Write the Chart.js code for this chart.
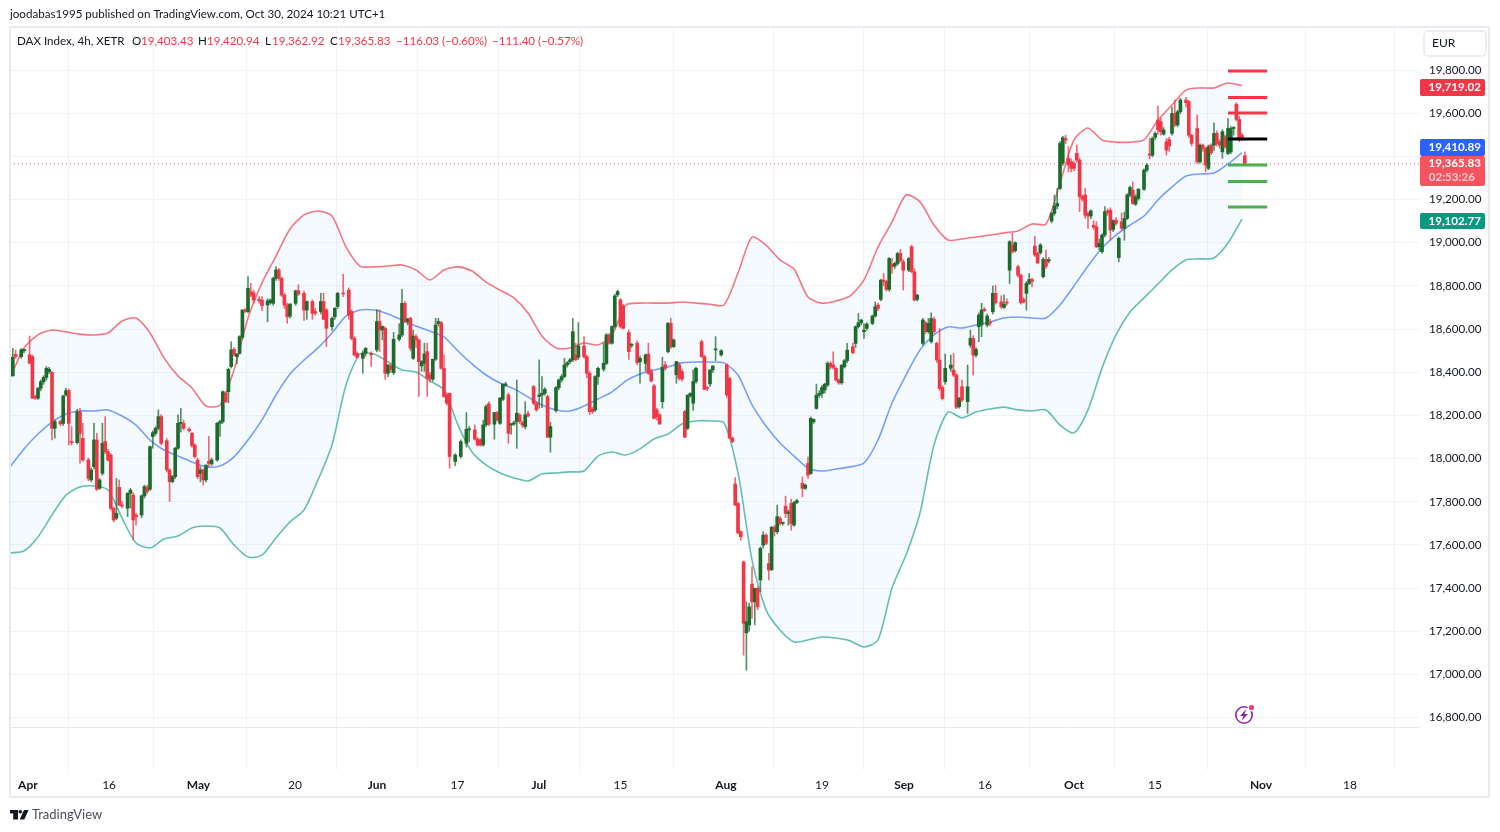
<!DOCTYPE html>
<html>
<head>
<meta charset="utf-8">
<style>html,body{margin:0;padding:0;background:#fff}canvas{display:block}</style>
<script src="https://cdn.jsdelivr.net/npm/chart.js@4"></script>
</head>
<body>
<canvas id="c" width="1500" height="832"></canvas>
<script>
const tickBars=[6.4,35.4,67.3,101.8,131.1,159.8,188.9,218,255.7,290,319.3,348.2,380,408.9,446.8,478.6];
const tickLabels=['Apr','16','May','20','Jun','17','Jul','15','Aug','19','Sep','16','Oct','15','Nov','18'];
const priceTicks=[16800,17000,17200,17400,17600,17800,18000,18200,18400,18600,18800,19000,19200,19400,19600,19800];

const candleBars=[
1,2,4,5,7,8,9,10,11,12,13,14,15,16,18,19,20,21,22,24,25,26,28,29,30,31,32,33,34,35,
36,37,38,39,40,42,43,44,45,47,48,49,50,51,52,53,54,56,57,58,59,60,61,62,64,65,66,67,68,69,
70,71,72,74,75,76,77,78,79,80,81,82,83,84,85,86,87,89,90,92,93,94,95,96,97,98,99,100,102,103,
105,106,108,109,111,112,113,115,116,117,119,121,122,123,124,126,127,129,131,
132,133,134,135,136,137,139,140,141,142,143,144,145,146,147,148,149,150,151,152,
153,154,155,156,157,159,161,163,164,166,167,168,169,170,171,173,174,175,176,177,
178,179,180,181,182,183,184,185,187,188,189,190,191,192,193,195,196,197,198,199,
200,201,202,203,205,206,207,208,209,210,212,213,214,215,216,217,218,219,221,222,
224,225,227,228,229,230,231,232,233,234,235,236,237,238,239,240,241,242,243,244,
245,247,248,249,250,251,252,254,256,257,258,
259,260,261,262,263,264,265,266,267,268,269,270,271,272,273,274,275,276,277,278,279,280,281,
283,284,285,286,287,288,289,290,291,292,293,294,295,296,297,298,299,
301,302,303,304,305,306,308,309,310,311,312,313,314,315,316,317,318,319,321,322,323,324,
326,327,328,329,330,331,332,333,334,336,337,338,339,340,342,343,344,345,346,347,348,349,350,351,352,
354,355,356,357,358,359,360,361,362,363,364,365,366,367,368,369,370,371,
372,373,374,375,376,377,378,379,380,381,382,383,384,385,386,387,388,389,390,391,392,393,394,395,396,397,398,399,400,401,402,403,
405,406,407,408,409,410,411,412,413,414,415,416,417,418,420,421,422,
424,425,426,427,428,429,430,431,432,433,434,435,436,437,438,439,440,441];

const candleOpen=[
18379,18479,18468,18495,18476,18468,18283,18276,18322,18352,
18372,18399,18395,18137,18168,18160,18291,18311,18076,18071,
18214,18091,17991,17899,17960,18083,17860,17929,18076,18029,
18014,17768,17722,17865,17783,17768,17837,17829,17737,17737,
17825,17863,17856,18099,18114,18137,18191,18080,17945,17891,
17914,18045,18160,18160,18133,18114,18060,17991,17929,17945,
17899,17985,17973,17991,18160,18168,18299,18306,18422,18502,
18468,18483,18557,18683,18676,18768,18763,18732,18729,18706,
18717,18714,18829,18868,18829,18752,18706,18655,18714,18772,
18760,18683,18722,18676,18676,18722,18683,18606,18652,18699,
18760,18775,18676,18552,18483,18460,18483,18483,18499,
18630,18591,18599,18391,18425,18394,18548,18568,18714,18630,
18645,18460,18560,18545,18425,18437,18491,18384,18364,18456,
18620,18625,18414,18291,18299,17984,18007,18068,18130,18130,
18087,18084,18060,18153,18250,18156,18210,18160,18271,18337,
18291,18153,18157,18168,18199,18163,18145,18204,18330,18253,
18284,18291,18299,18284,18096,18219,18325,18360,18376,18430,
18445,18453,18476,18465,18517,18468,18391,18225,18222,18376,
18410,18437,18568,18530,18607,18753,18730,18702,18579,18520,
18530,18445,18437,18480,18399,18333,18222,18199,18260,18430,
18491,18622,18514,18384,18430,18399,18214,18137,18287,18253,
18353,18537,18468,18322,18342,18407,18499,18476,18430,18368,18092,
17880,17790,17660,17521,17193,17229,17418,17336,17398,17437,17598,17644,17513,17485,17680,17660,17721,17698,17778,17744,17790,17690,17794,
17883,17860,17975,17929,18167,18229,18290,18298,18314,18337,18437,18429,18414,18360,18347,18421,18449,
18514,18529,18606,18624,18583,18598,18621,18655,18706,18732,18821,18814,18778,18894,18886,18898,18944,18906,18867,18975,18860,18732,
18529,18624,18583,18537,18640,18529,18452,18326,18352,18414,18406,18383,18237,18329,18260,18521,18552,18475,18606,18614,18686,18614,18628,18675,18760,
18721,18695,18719,18867,18983,18957,18883,18844,18732,18760,18806,18824,18978,18944,18947,18837,18917,18910,
19094,19129,19163,19244,19360,19475,19383,19367,19360,19406,19375,19206,19214,19129,19117,19075,19067,18975,18952,19029,19141,19144,19055,19098,18925,19090,19060,19106,19214,19237,19172,19198,
19240,19329,19403,19398,19480,19560,19552,19495,19460,19470,19498,19590,19537,19598,19652,19644,19490,
19521,19367,19444,19429,19337,19444,19444,19498,19460,19413,19483,19406,19413,19521,19633,19563,19490,19403.43];

const candleHigh=[
18506,18499,18506,18500,18563,18476,18290,18325,18360,18380,
18422,18419,18400,18175,18175,18290,18322,18318,18145,18225,
18229,18160,18000,17955,18160,18114,17905,18160,18191,18040,
18020,17775,17906,17899,17800,17840,17860,17840,17745,17830,
17875,17875,18055,18125,18145,18222,18200,18090,17950,17920,
18050,18199,18229,18175,18140,18120,18065,18000,17960,17950,
17965,18100,18000,18165,18175,18310,18305,18415,18537,18510,
18482,18565,18685,18690,18837,18806,18775,18745,18745,18735,
18735,18835,18883,18875,18835,18760,18715,18712,18775,18799,
18770,18725,18730,18690,18760,18760,18690,18650,18695,18765,
18848,18785,18685,18560,18490,18495,18510,18490,18685,
18684,18610,18605,18430,18435,18580,18620,18779,18722,18645,
18650,18590,18570,18550,18450,18530,18530,18395,18455,18645,
18645,18630,18476,18300,18299,18020,18084,18210,18145,18153,
18095,18090,18175,18245,18260,18210,18215,18280,18340,18350,
18300,18160,18170,18360,18205,18170,18260,18215,18335,18260,
18453,18376,18325,18290,18165,18330,18365,18385,18460,18445,
18460,18645,18530,18625,18560,18475,18400,18235,18380,18420,
18530,18575,18575,18610,18755,18775,18737,18710,18590,18530,
18540,18470,18480,18530,18410,18340,18230,18205,18465,18445,
18625,18645,18550,18445,18440,18410,18220,18290,18300,18407,
18420,18545,18475,18330,18400,18425,18560,18500,18435,18372,18098,
17910,17795,17665,17525,17336,17330,17498,17400,17405,17590,17660,17650,17560,17685,17690,17783,17730,17705,17824,17760,17810,17800,17810,
17913,17880,18006,18190,18180,18341,18310,18335,18345,18445,18445,18490,18420,18365,18430,18455,18529,
18530,18610,18667,18640,18620,18625,18660,18720,18715,18825,18852,18820,18925,18921,18905,18950,18963,18915,18925,18983,18875,18755,
18644,18632,18644,18670,18650,18535,18598,18335,18480,18475,18483,18390,18280,18360,18429,18590,18565,18510,18670,18714,18695,18665,18640,18794,18798,
18749,18752,18735,19003,19037,18998,18890,18850,18740,18815,18852,18830,19024,18950,18990,18925,18960,18925,
19135,19214,19244,19460,19485,19490,19437,19380,19370,19445,19385,19215,19244,19135,19145,19095,19090,19010,19035,19160,19150,19155,19100,19110,19020,19130,19135,19220,19255,19275,19215,19245,
19335,19360,19475,19482,19505,19624,19570,19525,19475,19480,19620,19652,19605,19660,19665,19650,19495,
19583,19450,19450,19435,19445,19450,19547,19510,19470,19515,19490,19567,19530,19530,19640,19578,19500,19420.94];

const candleLow=[
18379,18460,18460,18485,18437,18276,18270,18270,18310,18340,
18360,18390,18083,18091,18150,18150,18285,18060,18060,18065,
17976,17985,17895,17890,17950,17850,17855,17920,18020,17985,
17760,17705,17715,17780,17770,17730,17770,17622,17690,17725,
17815,17835,17850,18045,18105,18130,18060,17935,17800,17885,
17905,18040,18120,18130,18120,18050,18000,17905,17890,17875,
17890,17960,17965,17985,18100,18160,18255,18255,18415,18470,
18435,18480,18550,18670,18670,18745,18715,18715,18680,18629,
18710,18705,18820,18820,18745,18690,18622,18645,18705,18750,
18635,18640,18640,18660,18665,18640,18514,18590,18640,18690,
18745,18640,18545,18470,18460,18391,18470,18422,18490,
18491,18545,18363,18375,18395,18385,18540,18560,18625,18615,
18495,18455,18510,18284,18400,18400,18284,18350,18355,18450,
18610,18410,18280,18245,17953,17965,18000,18050,18075,18082,
18055,18055,18055,18145,18150,18087,18170,18155,18265,18330,
18068,18110,18150,18045,18160,18140,18135,18190,18245,18215,
18230,18232,18290,18095,18027,18212,18315,18350,18370,18420,
18435,18445,18450,18455,18460,18370,18200,18205,18215,18340,
18400,18430,18525,18525,18600,18745,18600,18595,18455,18510,
18430,18345,18400,18385,18350,18180,18175,18155,18230,18405,
18485,18505,18510,18345,18360,18355,18095,18130,18280,18220,
18345,18465,18315,18310,18330,18395,18450,18470,18280,18090,18070,
17780,17650,17620,17090,17021,17200,17260,17230,17300,17383,17585,17600,17437,17480,17640,17650,17690,17690,17725,17690,17667,17685,17790,
17821,17855,17906,17925,18160,18225,18280,18280,18300,18330,18410,18410,18355,18340,18340,18415,18440,
18480,18510,18600,18615,18552,18590,18615,18650,18680,18725,18795,18770,18770,18852,18875,18890,18905,18775,18860,18855,18725,18725,
18520,18575,18575,18530,18575,18440,18310,18268,18340,18400,18375,18228,18230,18260,18206,18510,18383,18465,18537,18560,18675,18605,18610,18665,18710,
18690,18690,18705,18806,18945,18950,18835,18710,18715,18683,18800,18790,18930,18898,18940,18830,18875,18900,
19085,19120,19150,19240,19350,19450,19320,19320,19325,19365,19137,19185,19106,19060,19105,19055,18970,18960,18945,19020,19120,19006,19045,19075,18906,19050,19005,19100,19205,19170,19165,19190,
19235,19320,19380,19390,19470,19495,19490,19490,19398,19415,19490,19530,19530,19590,19620,19480,19440,
19360,19360,19415,19321,19330,19400,19420,19440,19430,19383,19430,19400,19405,19490,19555,19460,19465,19362.92];

const candleClose=[
18465,18468,18499,18502,18437,18276,18276,18322,18352,18372,
18414,18409,18137,18168,18157,18286,18311,18160,18071,18214,
18114,17991,17906,17945,18083,17856,17899,18068,18029,17991,
17768,17714,17745,17783,17778,17837,17852,17714,17729,17825,
17868,17845,18052,18117,18137,18191,18068,17945,17891,17914,
18045,18160,18163,18137,18126,18056,18006,17914,17945,17899,
17968,17975,17991,18160,18168,18306,18260,18409,18499,18476,
18480,18560,18683,18676,18783,18752,18729,18725,18703,18726,
18729,18829,18868,18829,18752,18706,18652,18711,18772,18757,
18683,18722,18668,18668,18722,18640,18599,18645,18691,18760,
18757,18660,18552,18476,18465,18483,18506,18476,18630,
18591,18607,18391,18430,18410,18548,18568,18714,18630,18642,
18507,18563,18545,18445,18445,18480,18368,18364,18456,18614,
18630,18414,18284,18253,18007,18014,18076,18133,18133,18087,
18060,18060,18153,18237,18156,18210,18176,18276,18342,18340,
18114,18157,18163,18207,18168,18153,18199,18194,18253,18222,
18291,18299,18317,18096,18145,18325,18360,18376,18430,18440,
18453,18583,18453,18517,18468,18391,18214,18214,18376,18414,
18437,18568,18530,18607,18748,18768,18607,18599,18491,18524,
18440,18460,18476,18391,18356,18183,18191,18157,18419,18414,
18622,18514,18545,18445,18368,18364,18096,18291,18299,18353,
18414,18468,18317,18320,18407,18425,18503,18495,18291,18092,18076,
17783,17655,17637,17237,17244,17313,17336,17398,17313,17583,17644,17606,17483,17680,17660,17729,17698,17700,17744,17752,17698,17794,17803,
17860,17875,17921,18183,18178,18290,18298,18326,18341,18437,18421,18418,18360,18347,18429,18449,18498,
18486,18606,18624,18637,18590,18618,18655,18698,18690,18821,18814,18778,18921,18883,18898,18944,18910,18867,18921,18860,18729,18752,
18637,18583,18621,18644,18583,18452,18321,18275,18414,18429,18383,18234,18275,18267,18329,18552,18475,18501,18660,18683,18680,18655,18622,18760,18717,
18698,18710,18715,18998,18952,18994,18844,18717,18721,18806,18824,18815,18937,18900,18983,18917,18885,18915,
19129,19163,19175,19452,19478,19467,19352,19337,19337,19375,19206,19195,19121,19117,19141,19065,18975,18990,19029,19137,19132,19052,19095,19083,19014,19060,19106,19214,19249,19175,19206,19240,
19329,19352,19398,19475,19498,19514,19506,19514,19421,19440,19590,19537,19598,19652,19640,19490,19452,
19367,19444,19429,19352,19437,19409,19498,19452,19444,19506,19437,19521,19521,19525,19563,19475,19475,19365.83];

// Bollinger bands, read every 5 bars
const bandBars=[0,5,10,15,20,25,30,35,40,45,50,55,60,65,70,75,80,85,90,95,100,105,110,115,120,125,130,135,140,145,150,155,160,165,170,175,180,185,190,195,200,205,210,215,220,225,230,235,240,245,250,255,260,265,270,275,280,285,290,295,300,305,310,315,320,325,330,335,340,345,350,355,360,365,370,375,380,385,390,395,400,405,410,415,420,425,430,435,440];
const upperBand=[
18369,18508,18568,18591,18582,18572,18568,18577,18632,18646,
18577,18462,18379,18323,18240,18245,18406,18646,18808,18932,
19057,19122,19140,19117,18974,18886,18882,18886,18891,18868,
18822,18868,18882,18863,18812,18775,18739,18669,18563,18508,
18508,18531,18522,18568,18706,18715,18715,18715,18720,18715,
18710,18706,18854,19020,18983,18914,18872,18743,18715,18725,
18748,18822,18974,19089,19214,19182,19075,19006,19011,19020,
19029,19039,19048,19080,19080,19269,19468,19523,19468,19458,
19458,19468,19560,19629,19698,19708,19708,19731,19719];
const midBand=[
17959,18042,18111,18166,18203,18217,18217,18222,18194,18152,
18083,18037,18009,17982,17959,17963,18005,18083,18176,18291,
18388,18452,18508,18577,18655,18683,18683,18665,18637,18609,
18586,18559,18494,18434,18383,18346,18319,18282,18245,18222,
18217,18240,18272,18305,18356,18388,18406,18420,18439,18443,
18443,18439,18383,18245,18148,18069,18009,17954,17940,17949,
17959,17977,18083,18254,18383,18499,18568,18605,18600,18614,
18628,18646,18651,18646,18646,18706,18794,18886,18969,19029,
19075,19117,19191,19251,19302,19311,19315,19357,19410];
const lowerBand=[
17562,17571,17636,17737,17829,17866,17871,17852,17723,17608,
17585,17626,17640,17677,17686,17677,17599,17543,17552,17631,
17705,17760,17899,18060,18337,18480,18480,18443,18406,18397,
18356,18314,18152,18028,17968,17931,17908,17894,17926,17931,
17936,17940,18009,18028,18014,18042,18088,18111,18157,18171,
18171,18162,17931,17529,17299,17206,17151,17160,17174,17169,
17156,17128,17160,17400,17552,17746,18060,18212,18185,18212,
18226,18235,18222,18217,18222,18152,18116,18222,18415,18568,
18674,18739,18803,18868,18914,18919,18923,18992,19103];

const lastPrice=19365.83;
const chartEndBar=503.57;
const levelStartBar=435;
const levelEndBar=449;
const levelPrices=[19786,19664,19592,19472,19352,19276,19158];
const levelColors=['#f23645','#f23645','#f23645','#000000','#4caf50','#4caf50','#4caf50'];

const headerText='joodabas1995 published on TradingView.com, Oct 30, 2024 10:21 UTC+1';
const FONT='Lato, "Noto Sans", sans-serif';
const UP='#1d6b2b', DOWN='#f23645';
const fmt=v=>v.toLocaleString('en-US',{minimumFractionDigits:2,maximumFractionDigits:2});

// first readings were taken against a slightly offset grid; this corrects them
const calibrate=p=>19800-((19800-p)*1.00357-9.26);

const n=candleBars.length;
const idx=[...Array(n).keys()];
const isUp=i=>candleClose[i]>=candleOpen[i];
const cv=(arr,i)=>i===n-1?arr[i]:calibrate(arr[i]);
const line=(label,ys,color)=>({type:'line',label,order:5,data:bandBars.map((b,i)=>({x:b,y:calibrate(ys[i])})),
  borderColor:color,borderWidth:1.6,pointRadius:0,tension:0.25,fill:false});

const datasets=[
  {...line('Upper',upperBand,'rgba(242,54,69,0.68)'),fill:{target:2,above:'rgba(33,150,243,0.05)',below:'rgba(33,150,243,0.05)'}},
  line('Basis',midBand,'rgba(41,98,255,0.62)'),
  line('Lower',lowerBand,'rgba(8,153,129,0.62)'),
  {type:'bar',label:'Wick',order:4,grouped:false,barThickness:1,data:idx.map(i=>({x:candleBars[i],y:[cv(candleLow,i),cv(candleHigh,i)]})),
   backgroundColor:idx.map(i=>isUp(i)?'rgba(29,107,43,0.75)':'rgba(242,54,69,0.75)'),borderWidth:0},
  {type:'bar',label:'Body',order:3,grouped:false,barThickness:3,minBarLength:1,data:idx.map(i=>({x:candleBars[i],y:[cv(candleOpen,i),cv(candleClose,i)]})),
   backgroundColor:idx.map(i=>isUp(i)?UP:DOWN),borderWidth:0},
  {type:'line',label:'Last',order:2,data:[{x:0,y:lastPrice},{x:chartEndBar,y:lastPrice}],borderColor:'rgba(242,54,69,0.8)',borderWidth:1,borderDash:[1,3],pointRadius:0},
  ...levelPrices.map((p,i)=>({type:'line',label:'Level '+(i+1),order:1,data:[{x:levelStartBar,y:calibrate(p)},{x:levelEndBar,y:calibrate(p)}],borderColor:levelColors[i],borderWidth:3,pointRadius:0}))
];

function txt(ctx,s,x,y,color,font,align){
  ctx.fillStyle=color;ctx.font=font;ctx.textAlign=align||'left';ctx.textBaseline='middle';ctx.fillText(s,x,y);
}
const decor={
  id:'decor',
  afterDraw(chart){
    const c=chart.ctx;c.save();
    c.strokeStyle='#e9ebf1';c.lineWidth=2;c.strokeRect(10,27,1479,770);
    c.strokeStyle='#e6e8ef';c.lineWidth=1;c.beginPath();c.moveTo(10,727.5);c.lineTo(1420,727.5);c.stroke();
    const f='11.6px '+FONT;
    txt(c,headerText,10,14,'#131722',f);
    txt(c,'DAX Index, 4h, XETR',17,41,'#131722',f);
    const parts=[['O',132,'#131722'],['19,403.43',141,DOWN],['H',198,'#131722'],['19,420.94',207,DOWN],['L',265,'#131722'],['19,362.92',272,DOWN],['C',330,'#131722'],['19,365.83',338,DOWN],['\u2212116.03 (\u22120.60%)',396,DOWN],['\u2212111.40 (\u22120.57%)',492,DOWN]];
    parts.forEach(p=>txt(c,p[0],p[1],41,p[2],f));
    c.strokeStyle='#e6e8ef';c.lineWidth=1.5;c.beginPath();c.roundRect(1424,31,62,25,4);c.stroke();
    txt(c,'EUR',1432,43.5,'#131722','12px '+FONT);
    const tag=(t,v,col,y0,y1)=>{c.fillStyle=col;c.beginPath();c.roundRect(1420,y0,65,y1-y0,2);c.fill();
      txt(c,fmt(v),1481,t,'#ffffff','bold 11.6px '+FONT,'right');};
    tag(87.5,19719.02,'#f23645',79,96);
    tag(147,19410.89,'#2962ff',139,156);
    tag(163.5,lastPrice,'#f7525f',156,186);
    txt(c,'02:53:26',1475,177,'rgba(255,255,255,0.72)','bold 11.6px '+FONT,'right');
    tag(221,19102.77,'#089981',213,229);
    const g=c.createLinearGradient(1235,723,1253,705);g.addColorStop(0,'#9c27b0');g.addColorStop(1,'#7b1fa2');
    c.strokeStyle=g;c.lineWidth=1.6;c.beginPath();c.arc(1244,715,8.2,0,Math.PI*2);c.stroke();
    c.fillStyle='#8e24aa';c.beginPath();c.moveTo(1246.5,709);c.lineTo(1240,716);c.lineTo(1243.5,716);c.lineTo(1241.5,721);c.lineTo(1248,714);c.lineTo(1244.5,714);c.closePath();c.fill();
    c.fillStyle='#ffffff';c.beginPath();c.arc(1251.5,707.5,4,0,Math.PI*2);c.fill();
    c.fillStyle='#f23b7e';c.beginPath();c.arc(1251.5,707.5,2.6,0,Math.PI*2);c.fill();
    c.fillStyle='#131722';
    c.fillRect(10,810,8,3.4);c.fillRect(13.2,810,4.8,9.5);
    c.beginPath();c.arc(20.3,811.7,1.8,0,Math.PI*2);c.fill();
    c.beginPath();c.moveTo(24,810);c.lineTo(28.6,810);c.lineTo(24.3,819.5);c.lineTo(19.7,819.5);c.closePath();c.fill();
    txt(c,'TradingView',32,815,'#4a4e5a','13px '+FONT);
    c.restore();
  }
};

new Chart(document.getElementById('c'),{
  type:'bar',
  data:{datasets},
  plugins:[decor],
  options:{
    responsive:false,animation:false,devicePixelRatio:1,
    layout:{padding:{left:10,top:27,right:0,bottom:0}},
    plugins:{legend:{display:false},tooltip:{enabled:false},title:{display:false}},
    scales:{
      x:{type:'linear',min:0,max:chartEndBar,offset:false,
        afterBuildTicks:s=>{s.ticks=tickBars.map(v=>({value:v}));},
        afterFit:s=>{s.height=62;},
        grid:{color:'#f1f3f8',drawTicks:false},border:{display:false},
        ticks:{autoSkip:false,maxRotation:0,padding:8,
          callback:v=>tickLabels[tickBars.indexOf(v)],
          color:'#131722',
          font:ctx=>({family:FONT,size:12,weight:(ctx.tick&&isNaN(+tickLabels[tickBars.indexOf(ctx.tick.value)]))?'bold':'normal'})}},
      y:{type:'linear',position:'right',min:16557.8,max:19999.2,
        afterBuildTicks:s=>{s.ticks=priceTicks.map(v=>({value:v}));},
        afterFit:s=>{s.width=80;},
        grid:{color:'#f1f3f8',drawTicks:false},border:{display:false},
        ticks:{autoSkip:false,padding:9,color:'#131722',font:{family:FONT,size:11.6},callback:v=>fmt(v)}}
    }
  }
});
</script>
</body>
</html>
